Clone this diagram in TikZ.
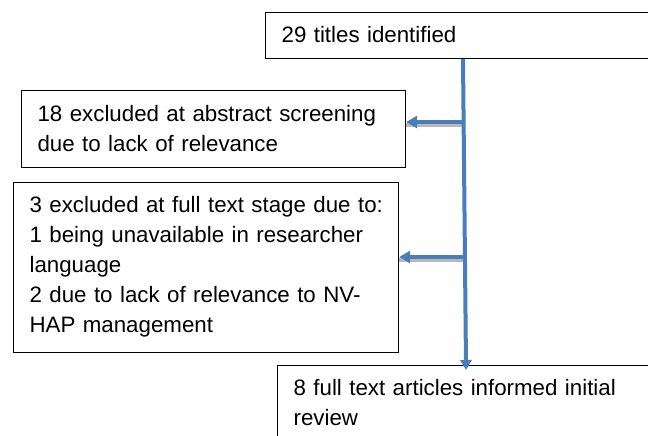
\documentclass[tikz,border=0pt]{standalone}
\usepackage{fontspec}
\setmainfont{Liberation Sans}
\usetikzlibrary{arrows.meta}
\definecolor{flowblue}{RGB}{74,126,187}
\tikzset{
  box/.style={draw=black, line width=1.2pt, anchor=north west, inner xsep=16pt, inner ysep=0pt,
    align=left, font=\fontsize{22.3}{30}\selectfont},
  flow/.style={draw=flowblue, line width=4pt, -{Triangle[length=11pt,width=12pt]}},
  flowshadow/.style={draw=gray!55, line width=4pt},
  trunk/.style={draw=flowblue, line width=4pt, -{Triangle[length=10pt,width=11pt]}},
}
\begin{document}
\begin{tikzpicture}[x=1pt,y=-1pt]
\path[use as bounding box, clip] (0,0) rectangle (648,436);
\node[box, text width=440pt] (top) at (265,12)
  {\rule{0pt}{30pt}29 titles identified\rule[-16pt]{0pt}{16pt}};
\node[box, text width=352pt] (ex1) at (21,90)
  {\rule{0pt}{31pt}\mbox{18 excluded at abstract screening}\\
   due to lack of relevance\rule[-16pt]{0pt}{16pt}};
\node[box, text width=353pt] (ex2) at (13,182)
  {\rule{0pt}{30pt}\mbox{3 excluded at full text stage due to:}\\
   \mbox{1 being unavailable in researcher}\\
   language\\
   \mbox{2 due to lack of relevance to NV-}\\
   HAP management\rule[-20pt]{0pt}{20pt}};
\node[box, text width=440pt] (bot) at (277,365)
  {\rule{0pt}{30pt}\mbox{8 full text articles informed initial}\\
   review\rule[-40pt]{0pt}{40pt}};
\coordinate (j1) at (463,122);
\coordinate (j2) at (464.5,257);
\coordinate (vb) at (466,365);
% shadows
\draw[flowshadow] ([yshift=-3pt]j1) -- ([yshift=-3pt]j1 -| ex1.east);
\draw[flowshadow] ([yshift=-3pt]j2) -- ([yshift=-3pt]j2 -| ex2.east);
% trunk
\draw[trunk, shorten >=-5pt] (top.south -| j1) -- (bot.north -| vb);
% branches
\draw[flow] (j1) -- (j1 -| ex1.east);
\draw[flow] (j2) -- (j2 -| ex2.east);
\end{tikzpicture}
\end{document}
